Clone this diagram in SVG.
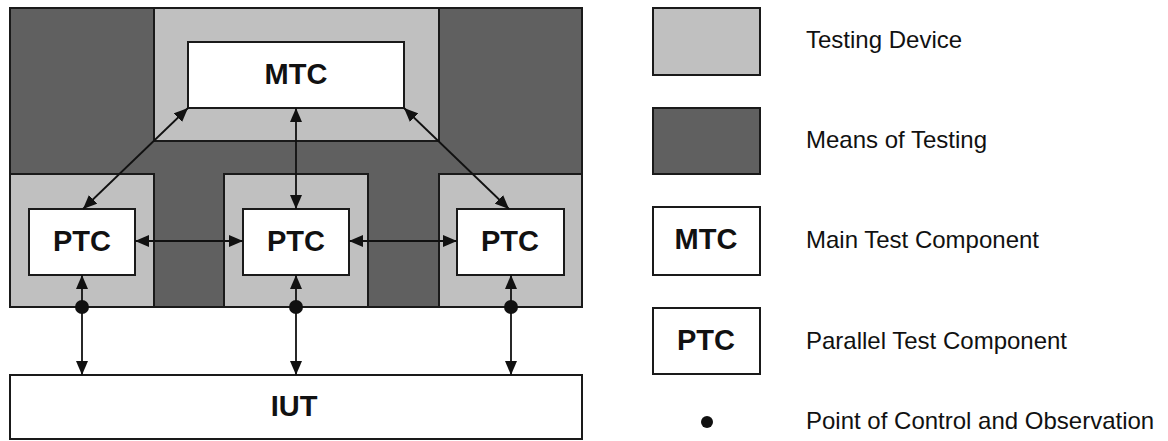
<svg xmlns="http://www.w3.org/2000/svg" width="1168" height="441" viewBox="0 0 1168 441">
<style>
.dev{fill:#c0c0c0;stroke:#1a1a1a;stroke-width:2}
.mot{fill:#606060;stroke:#1a1a1a;stroke-width:2}
.box{fill:#ffffff;stroke:#1a1a1a;stroke-width:2}
.lbl{font-family:"Liberation Sans",Arial,sans-serif;font-weight:bold;font-size:29px;fill:#111;text-anchor:middle}
.leg{font-family:"Liberation Sans",Arial,sans-serif;font-size:24px;fill:#111}
.con{stroke:#111;stroke-width:1.8;fill:none;marker-start:url(#ah);marker-end:url(#ah)}
.pco{fill:#111}
</style>
<defs>
<marker id="ah" viewBox="0 0 14 12" refX="14" refY="6" markerWidth="14" markerHeight="12" markerUnits="userSpaceOnUse" orient="auto-start-reverse">
<path d="M0,0 L14,6 L0,12 z" fill="#111"/>
</marker>
</defs>
<rect width="1168" height="441" fill="#ffffff"/>
<g id="means-of-testing">
<rect class="mot" x="10" y="8" width="572" height="299"/>
</g>
<g id="testing-device-mtc">
<rect class="dev" x="154" y="8" width="285" height="133"/>
</g>
<g id="testing-device-ptc1">
<rect class="dev" x="10" y="174" width="144" height="133"/>
</g>
<g id="testing-device-ptc2">
<rect class="dev" x="224" y="174" width="144" height="133"/>
</g>
<g id="testing-device-ptc3">
<rect class="dev" x="439" y="174" width="143" height="133"/>
</g>
<g id="mtc">
<rect class="box" x="188" y="42" width="216" height="66"/>
<text class="lbl" x="296" y="84">MTC</text>
</g>
<g id="ptc1">
<rect class="box" x="29" y="209" width="106" height="66"/>
<text class="lbl" x="82" y="251">PTC</text>
</g>
<g id="ptc2">
<rect class="box" x="243" y="209" width="106" height="66"/>
<text class="lbl" x="296" y="251">PTC</text>
</g>
<g id="ptc3">
<rect class="box" x="457" y="209" width="107" height="66"/>
<text class="lbl" x="510" y="251">PTC</text>
</g>
<g id="iut">
<rect class="box" x="10" y="375" width="572" height="64"/>
<text class="lbl" x="294" y="416">IUT</text>
</g>
<g id="connectors">
<line class="con" x1="188" y1="108" x2="83" y2="209"/>
<line class="con" x1="296" y1="108" x2="296" y2="209"/>
<line class="con" x1="404" y1="108" x2="509" y2="209"/>
<line class="con" x1="135" y1="241" x2="243" y2="241"/>
<line class="con" x1="349" y1="241" x2="457" y2="241"/>
<line class="con" x1="82" y1="275" x2="82" y2="375"/>
<line class="con" x1="296" y1="275" x2="296" y2="375"/>
<line class="con" x1="511" y1="275" x2="511" y2="375"/>
<circle class="pco" cx="82" cy="307" r="7"/>
<circle class="pco" cx="296" cy="307" r="7"/>
<circle class="pco" cx="511" cy="307" r="7"/>
</g>
<g id="legend-testing-device">
<rect class="dev" x="653" y="8" width="107" height="67"/>
<text class="leg" x="806" y="48">Testing Device</text>
</g>
<g id="legend-means-of-testing">
<rect class="mot" x="653" y="108" width="107" height="66"/>
<text class="leg" x="806" y="148">Means of Testing</text>
</g>
<g id="legend-mtc">
<rect class="box" x="653" y="207" width="107" height="68"/>
<text class="lbl" x="706" y="249">MTC</text>
<text class="leg" x="806" y="248">Main Test Component</text>
</g>
<g id="legend-ptc">
<rect class="box" x="653" y="308" width="107" height="66"/>
<text class="lbl" x="706" y="350">PTC</text>
<text class="leg" x="806" y="349">Parallel Test Component</text>
</g>
<g id="legend-pco">
<circle class="pco" cx="707" cy="422" r="6"/>
<text class="leg" x="806" y="429">Point of Control and Observation</text>
</g>
</svg>
